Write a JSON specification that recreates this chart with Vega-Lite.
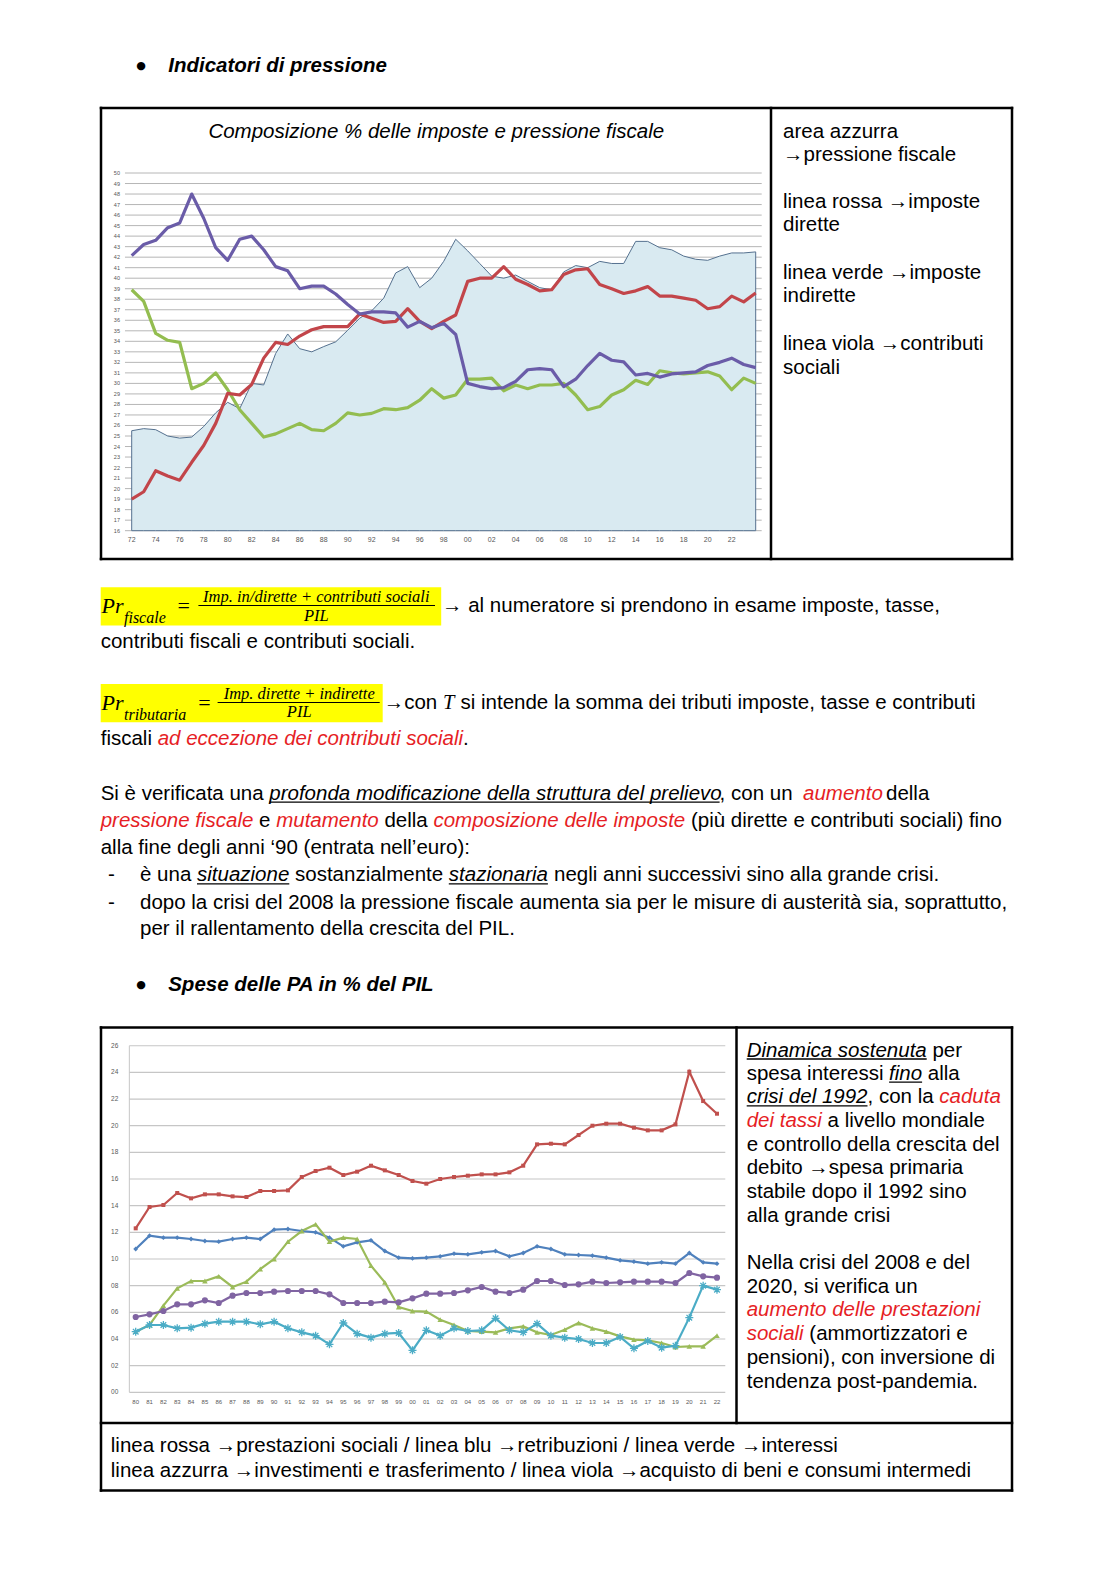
{
  "$schema": "https://vega.github.io/schema/vega-lite/v6.json",
  "width": 1118,
  "height": 1579,
  "autosize": {"type": "fit", "contains": "padding"},
  "padding": 0,
  "background": "#ffffff",
  "config": {"view": {"stroke": null}},
  "resolve": {"scale": {"x": "independent", "y": "independent", "color": "independent"}},
  "datasets": {
    "pressione": [
      {"anno":1972,"pressione":25.5,"dirette":19.0,"indirette":38.9,"contributi":42.15},
      {"anno":1973,"pressione":25.7,"dirette":19.7,"indirette":37.8,"contributi":43.2},
      {"anno":1974,"pressione":25.6,"dirette":21.7,"indirette":34.75,"contributi":43.6},
      {"anno":1975,"pressione":25.0,"dirette":21.2,"indirette":34.1,"contributi":44.8},
      {"anno":1976,"pressione":24.8,"dirette":20.8,"indirette":33.9,"contributi":45.25},
      {"anno":1977,"pressione":24.9,"dirette":22.5,"indirette":29.5,"contributi":48.0},
      {"anno":1978,"pressione":25.9,"dirette":24.1,"indirette":30.0,"contributi":45.7},
      {"anno":1979,"pressione":27.2,"dirette":26.2,"indirette":31.0,"contributi":42.9},
      {"anno":1980,"pressione":28.2,"dirette":29.05,"indirette":29.4,"contributi":41.7},
      {"anno":1981,"pressione":27.6,"dirette":28.9,"indirette":27.5,"contributi":43.7},
      {"anno":1982,"pressione":30.0,"dirette":29.9,"indirette":26.2,"contributi":44.0},
      {"anno":1983,"pressione":29.85,"dirette":32.4,"indirette":24.9,"contributi":42.7},
      {"anno":1984,"pressione":32.85,"dirette":33.9,"indirette":25.2,"contributi":41.1},
      {"anno":1985,"pressione":34.7,"dirette":33.7,"indirette":25.7,"contributi":40.7},
      {"anno":1986,"pressione":33.3,"dirette":34.5,"indirette":26.2,"contributi":39.0},
      {"anno":1987,"pressione":33.0,"dirette":35.1,"indirette":25.6,"contributi":39.25},
      {"anno":1988,"pressione":33.5,"dirette":35.4,"indirette":25.5,"contributi":39.25},
      {"anno":1989,"pressione":33.95,"dirette":35.4,"indirette":26.2,"contributi":38.5},
      {"anno":1990,"pressione":35.05,"dirette":35.4,"indirette":27.2,"contributi":37.5},
      {"anno":1991,"pressione":36.2,"dirette":36.6,"indirette":27.0,"contributi":36.6},
      {"anno":1992,"pressione":36.9,"dirette":36.2,"indirette":27.15,"contributi":36.8},
      {"anno":1993,"pressione":38.1,"dirette":35.8,"indirette":27.6,"contributi":36.8},
      {"anno":1994,"pressione":40.5,"dirette":35.9,"indirette":27.5,"contributi":36.7},
      {"anno":1995,"pressione":41.1,"dirette":37.1,"indirette":27.7,"contributi":35.35},
      {"anno":1996,"pressione":39.1,"dirette":35.9,"indirette":28.4,"contributi":35.9},
      {"anno":1997,"pressione":40.0,"dirette":35.2,"indirette":29.5,"contributi":35.3},
      {"anno":1998,"pressione":41.6,"dirette":35.9,"indirette":28.6,"contributi":35.7},
      {"anno":1999,"pressione":43.7,"dirette":36.5,"indirette":28.9,"contributi":34.65},
      {"anno":2000,"pressione":42.6,"dirette":39.7,"indirette":30.4,"contributi":30.0},
      {"anno":2001,"pressione":41.4,"dirette":40.0,"indirette":30.4,"contributi":29.7},
      {"anno":2002,"pressione":40.2,"dirette":40.0,"indirette":30.5,"contributi":29.5},
      {"anno":2003,"pressione":40.0,"dirette":41.1,"indirette":29.3,"contributi":29.6},
      {"anno":2004,"pressione":40.3,"dirette":39.9,"indirette":29.85,"contributi":30.2},
      {"anno":2005,"pressione":39.7,"dirette":39.4,"indirette":29.5,"contributi":31.3},
      {"anno":2006,"pressione":39.1,"dirette":38.8,"indirette":29.85,"contributi":31.4},
      {"anno":2007,"pressione":38.9,"dirette":38.9,"indirette":29.85,"contributi":31.3},
      {"anno":2008,"pressione":40.6,"dirette":40.35,"indirette":30.0,"contributi":29.7},
      {"anno":2009,"pressione":41.2,"dirette":40.8,"indirette":28.9,"contributi":30.4},
      {"anno":2010,"pressione":41.0,"dirette":40.9,"indirette":27.5,"contributi":31.7},
      {"anno":2011,"pressione":41.6,"dirette":39.4,"indirette":27.8,"contributi":32.85},
      {"anno":2012,"pressione":41.4,"dirette":39.0,"indirette":28.9,"contributi":32.2},
      {"anno":2013,"pressione":41.4,"dirette":38.55,"indirette":29.4,"contributi":32.05},
      {"anno":2014,"pressione":43.5,"dirette":38.8,"indirette":30.3,"contributi":30.8},
      {"anno":2015,"pressione":43.5,"dirette":39.2,"indirette":29.9,"contributi":30.95},
      {"anno":2016,"pressione":42.9,"dirette":38.3,"indirette":31.2,"contributi":30.6},
      {"anno":2017,"pressione":42.7,"dirette":38.3,"indirette":31.0,"contributi":30.9},
      {"anno":2018,"pressione":42.1,"dirette":38.1,"indirette":30.9,"contributi":31.0},
      {"anno":2019,"pressione":41.8,"dirette":37.9,"indirette":31.0,"contributi":31.1},
      {"anno":2020,"pressione":41.7,"dirette":37.1,"indirette":31.1,"contributi":31.7},
      {"anno":2021,"pressione":42.1,"dirette":37.3,"indirette":30.7,"contributi":32.0},
      {"anno":2022,"pressione":42.4,"dirette":38.3,"indirette":29.4,"contributi":32.4},
      {"anno":2023,"pressione":42.4,"dirette":37.75,"indirette":30.5,"contributi":31.8},
      {"anno":2024,"pressione":42.5,"dirette":38.6,"indirette":30.0,"contributi":31.5}
    ],
    "spese": [
      {"anno":1980,"prestazioni":12.3,"retribuzioni":10.75,"interessi":4.55,"beni":5.65,"investimenti":4.55},
      {"anno":1981,"prestazioni":13.9,"retribuzioni":11.75,"interessi":5.05,"beni":5.85,"investimenti":5.05},
      {"anno":1982,"prestazioni":14.05,"retribuzioni":11.6,"interessi":6.5,"beni":6.1,"investimenti":5.05},
      {"anno":1983,"prestazioni":14.95,"retribuzioni":11.6,"interessi":7.8,"beni":6.6,"investimenti":4.8},
      {"anno":1984,"prestazioni":14.55,"retribuzioni":11.5,"interessi":8.35,"beni":6.6,"investimenti":4.85},
      {"anno":1985,"prestazioni":14.85,"retribuzioni":11.35,"interessi":8.35,"beni":6.9,"investimenti":5.15},
      {"anno":1986,"prestazioni":14.85,"retribuzioni":11.3,"interessi":8.7,"beni":6.7,"investimenti":5.3},
      {"anno":1987,"prestazioni":14.7,"retribuzioni":11.5,"interessi":7.9,"beni":7.25,"investimenti":5.3},
      {"anno":1988,"prestazioni":14.65,"retribuzioni":11.6,"interessi":8.3,"beni":7.45,"investimenti":5.3},
      {"anno":1989,"prestazioni":15.1,"retribuzioni":11.5,"interessi":9.25,"beni":7.45,"investimenti":5.1},
      {"anno":1990,"prestazioni":15.1,"retribuzioni":12.2,"interessi":10.0,"beni":7.55,"investimenti":5.3},
      {"anno":1991,"prestazioni":15.15,"retribuzioni":12.25,"interessi":11.3,"beni":7.6,"investimenti":4.8},
      {"anno":1992,"prestazioni":16.15,"retribuzioni":12.1,"interessi":12.1,"beni":7.6,"investimenti":4.5},
      {"anno":1993,"prestazioni":16.6,"retribuzioni":12.0,"interessi":12.6,"beni":7.6,"investimenti":4.25},
      {"anno":1994,"prestazioni":16.85,"retribuzioni":11.6,"interessi":11.3,"beni":7.35,"investimenti":3.6},
      {"anno":1995,"prestazioni":16.3,"retribuzioni":10.95,"interessi":11.6,"beni":6.7,"investimenti":5.2},
      {"anno":1996,"prestazioni":16.55,"retribuzioni":11.25,"interessi":11.5,"beni":6.7,"investimenti":4.4},
      {"anno":1997,"prestazioni":17.0,"retribuzioni":11.4,"interessi":9.5,"beni":6.7,"investimenti":4.1},
      {"anno":1998,"prestazioni":16.65,"retribuzioni":10.6,"interessi":8.25,"beni":6.8,"investimenti":4.4},
      {"anno":1999,"prestazioni":16.3,"retribuzioni":10.1,"interessi":6.4,"beni":6.75,"investimenti":4.45},
      {"anno":2000,"prestazioni":15.85,"retribuzioni":10.05,"interessi":6.1,"beni":7.05,"investimenti":3.15},
      {"anno":2001,"prestazioni":15.65,"retribuzioni":10.1,"interessi":6.05,"beni":7.4,"investimenti":4.65},
      {"anno":2002,"prestazioni":16.0,"retribuzioni":10.2,"interessi":5.45,"beni":7.4,"investimenti":4.25},
      {"anno":2003,"prestazioni":16.15,"retribuzioni":10.4,"interessi":5.05,"beni":7.45,"investimenti":4.8},
      {"anno":2004,"prestazioni":16.25,"retribuzioni":10.35,"interessi":4.6,"beni":7.65,"investimenti":4.6},
      {"anno":2005,"prestazioni":16.35,"retribuzioni":10.5,"interessi":4.55,"beni":7.9,"investimenti":4.65},
      {"anno":2006,"prestazioni":16.35,"retribuzioni":10.6,"interessi":4.5,"beni":7.55,"investimenti":5.55},
      {"anno":2007,"prestazioni":16.5,"retribuzioni":10.2,"interessi":4.8,"beni":7.45,"investimenti":4.65},
      {"anno":2008,"prestazioni":17.0,"retribuzioni":10.45,"interessi":4.95,"beni":7.7,"investimenti":4.5},
      {"anno":2009,"prestazioni":18.6,"retribuzioni":10.95,"interessi":4.5,"beni":8.35,"investimenti":5.15},
      {"anno":2010,"prestazioni":18.65,"retribuzioni":10.75,"interessi":4.3,"beni":8.35,"investimenti":4.25},
      {"anno":2011,"prestazioni":18.6,"retribuzioni":10.35,"interessi":4.7,"beni":8.05,"investimenti":4.1},
      {"anno":2012,"prestazioni":19.3,"retribuzioni":10.3,"interessi":5.2,"beni":8.1,"investimenti":4.0},
      {"anno":2013,"prestazioni":20.0,"retribuzioni":10.25,"interessi":4.8,"beni":8.3,"investimenti":3.7},
      {"anno":2014,"prestazioni":20.15,"retribuzioni":10.1,"interessi":4.55,"beni":8.2,"investimenti":3.7},
      {"anno":2015,"prestazioni":20.15,"retribuzioni":9.9,"interessi":4.2,"beni":8.25,"investimenti":4.15},
      {"anno":2016,"prestazioni":19.85,"retribuzioni":9.8,"interessi":3.95,"beni":8.3,"investimenti":3.3},
      {"anno":2017,"prestazioni":19.65,"retribuzioni":9.65,"interessi":3.9,"beni":8.3,"investimenti":3.85},
      {"anno":2018,"prestazioni":19.65,"retribuzioni":9.75,"interessi":3.7,"beni":8.3,"investimenti":3.35},
      {"anno":2019,"prestazioni":20.1,"retribuzioni":9.65,"interessi":3.4,"beni":8.2,"investimenti":3.5},
      {"anno":2020,"prestazioni":24.05,"retribuzioni":10.45,"interessi":3.45,"beni":8.95,"investimenti":5.6},
      {"anno":2021,"prestazioni":21.85,"retribuzioni":9.75,"interessi":3.45,"beni":8.7,"investimenti":8.0},
      {"anno":2022,"prestazioni":20.9,"retribuzioni":9.65,"interessi":4.25,"beni":8.6,"investimenti":7.7}
    ],
    "griglia1": [
      {"v":16},{"v":17},{"v":18},{"v":19},{"v":20},{"v":21},{"v":22},{"v":23},{"v":24},{"v":25},
      {"v":26},{"v":27},{"v":28},{"v":29},{"v":30},{"v":31},{"v":32},{"v":33},{"v":34},{"v":35},
      {"v":36},{"v":37},{"v":38},{"v":39},{"v":40},{"v":41},{"v":42},{"v":43},{"v":44},{"v":45},
      {"v":46},{"v":47},{"v":48},{"v":49},{"v":50}
    ],
    "anni1": [
      {"anno":1972,"t":"72"},{"anno":1974,"t":"74"},{"anno":1976,"t":"76"},{"anno":1978,"t":"78"},
      {"anno":1980,"t":"80"},{"anno":1982,"t":"82"},{"anno":1984,"t":"84"},{"anno":1986,"t":"86"},
      {"anno":1988,"t":"88"},{"anno":1990,"t":"90"},{"anno":1992,"t":"92"},{"anno":1994,"t":"94"},
      {"anno":1996,"t":"96"},{"anno":1998,"t":"98"},{"anno":2000,"t":"00"},{"anno":2002,"t":"02"},
      {"anno":2004,"t":"04"},{"anno":2006,"t":"06"},{"anno":2008,"t":"08"},{"anno":2010,"t":"10"},
      {"anno":2012,"t":"12"},{"anno":2014,"t":"14"},{"anno":2016,"t":"16"},{"anno":2018,"t":"18"},
      {"anno":2020,"t":"20"},{"anno":2022,"t":"22"}
    ],
    "griglia2": [
      {"v":0,"t":"00"},{"v":2,"t":"02"},{"v":4,"t":"04"},{"v":6,"t":"06"},{"v":8,"t":"08"},
      {"v":10,"t":"10"},{"v":12,"t":"12"},{"v":14,"t":"14"},{"v":16,"t":"16"},{"v":18,"t":"18"},
      {"v":20,"t":"20"},{"v":22,"t":"22"},{"v":24,"t":"24"},{"v":26,"t":"26"}
    ],
    "anni2": [
      {"anno":1980,"t":"80"},{"anno":1981,"t":"81"},{"anno":1982,"t":"82"},{"anno":1983,"t":"83"},
      {"anno":1984,"t":"84"},{"anno":1985,"t":"85"},{"anno":1986,"t":"86"},{"anno":1987,"t":"87"},
      {"anno":1988,"t":"88"},{"anno":1989,"t":"89"},{"anno":1990,"t":"90"},{"anno":1991,"t":"91"},
      {"anno":1992,"t":"92"},{"anno":1993,"t":"93"},{"anno":1994,"t":"94"},{"anno":1995,"t":"95"},
      {"anno":1996,"t":"96"},{"anno":1997,"t":"97"},{"anno":1998,"t":"98"},{"anno":1999,"t":"99"},
      {"anno":2000,"t":"00"},{"anno":2001,"t":"01"},{"anno":2002,"t":"02"},{"anno":2003,"t":"03"},
      {"anno":2004,"t":"04"},{"anno":2005,"t":"05"},{"anno":2006,"t":"06"},{"anno":2007,"t":"07"},
      {"anno":2008,"t":"08"},{"anno":2009,"t":"09"},{"anno":2010,"t":"10"},{"anno":2011,"t":"11"},
      {"anno":2012,"t":"12"},{"anno":2013,"t":"13"},{"anno":2014,"t":"14"},{"anno":2015,"t":"15"},
      {"anno":2016,"t":"16"},{"anno":2017,"t":"17"},{"anno":2018,"t":"18"},{"anno":2019,"t":"19"},
      {"anno":2020,"t":"20"},{"anno":2021,"t":"21"},{"anno":2022,"t":"22"}
    ],
    "evidenziato": [
      {"x":100.7,"y":587.2,"x2":441.2,"y2":625.5},
      {"x":100.7,"y":683.9,"x2":382.7,"y2":722.2}
    ],
    "segmenti": [
      {"x":101,"y":108,"x2":1012,"y2":108,"tipo":"bordo"},
      {"x":101,"y":559,"x2":1012,"y2":559,"tipo":"bordo"},
      {"x":101,"y":108,"x2":101,"y2":559,"tipo":"bordo"},
      {"x":1012,"y":108,"x2":1012,"y2":559,"tipo":"bordo"},
      {"x":771,"y":108,"x2":771,"y2":559,"tipo":"bordo"},
      {"x":101,"y":1027.5,"x2":1012,"y2":1027.5,"tipo":"bordo"},
      {"x":101,"y":1490.5,"x2":1012,"y2":1490.5,"tipo":"bordo"},
      {"x":101,"y":1027.5,"x2":101,"y2":1490.5,"tipo":"bordo"},
      {"x":1012,"y":1027.5,"x2":1012,"y2":1490.5,"tipo":"bordo"},
      {"x":736.5,"y":1027.5,"x2":736.5,"y2":1423,"tipo":"bordo"},
      {"x":101,"y":1423,"x2":1012,"y2":1423,"tipo":"bordo"},
      {"x":198.4,"y":605.5,"x2":435,"y2":605.5,"tipo":"frazione"},
      {"x":217.6,"y":702.5,"x2":379.7,"y2":702.5,"tipo":"frazione"},
      {"x":269.3,"y":802.2,"x2":719.6,"y2":802.2,"tipo":"sottolineato"},
      {"x":197,"y":883.8,"x2":289.3,"y2":883.8,"tipo":"sottolineato"},
      {"x":448.8,"y":883.8,"x2":547.9,"y2":883.8,"tipo":"sottolineato"},
      {"x":746.7,"y":1059,"x2":926.7,"y2":1059,"tipo":"sottolineato"},
      {"x":889.1,"y":1082.2,"x2":922.1,"y2":1082.2,"tipo":"sottolineato"},
      {"x":746.7,"y":1105.8,"x2":867.5,"y2":1105.8,"tipo":"sottolineato"}
    ],
    "testi": [
      {"x":141,"y":65.5,"testo":"●","tipo":"punto"},
      {"x":168.2,"y":65.5,"testo":"Indicatori di pressione","tipo":"titolo"},
      {"x":436.3,"y":131.5,"testo":"Composizione % delle imposte e pressione fiscale","tipo":"titolo grafico"},
      {"x":783,"y":132,"testo":"area azzurra","tipo":"normale"},
      {"x":783,"y":155.3,"testo":"→pressione fiscale","tipo":"normale"},
      {"x":783,"y":202,"testo":"linea rossa →imposte","tipo":"normale"},
      {"x":783,"y":225.3,"testo":"dirette","tipo":"normale"},
      {"x":783,"y":272.5,"testo":"linea verde →imposte","tipo":"normale"},
      {"x":783,"y":296,"testo":"indirette","tipo":"normale"},
      {"x":783,"y":344,"testo":"linea viola →contributi","tipo":"normale"},
      {"x":783,"y":367.5,"testo":"sociali","tipo":"normale"},
      {"x":101.5,"y":606,"testo":"Pr","tipo":"formula"},
      {"x":124,"y":617.5,"testo":"fiscale","tipo":"pedice"},
      {"x":183.8,"y":606,"testo":"=","tipo":"uguale"},
      {"x":316.3,"y":597.3,"testo":"Imp. in/dirette + contributi sociali","tipo":"frazione"},
      {"x":316.3,"y":616.4,"testo":"PIL","tipo":"frazione"},
      {"x":442,"y":606,"testo":"→ al numeratore si prendono in esame imposte, tasse,","tipo":"normale"},
      {"x":100.7,"y":641.6,"testo":"contributi fiscali e contributi sociali.","tipo":"normale"},
      {"x":101.5,"y":703,"testo":"Pr","tipo":"formula"},
      {"x":124,"y":715,"testo":"tributaria","tipo":"pedice"},
      {"x":204.4,"y":703,"testo":"=","tipo":"uguale"},
      {"x":299.2,"y":694,"testo":"Imp. dirette + indirette","tipo":"frazione"},
      {"x":299.2,"y":712,"testo":"PIL","tipo":"frazione"},
      {"x":383.7,"y":703,"testo":"→con","tipo":"normale"},
      {"x":443,"y":703,"testo":"T","tipo":"variabile"},
      {"x":460.5,"y":703,"testo":"si intende la somma dei tributi imposte, tasse e contributi","tipo":"normale"},
      {"x":100.7,"y":739.3,"testo":"fiscali","tipo":"normale"},
      {"x":157.7,"y":739.3,"testo":"ad eccezione dei contributi sociali","tipo":"rosso"},
      {"x":463,"y":739.3,"testo":".","tipo":"normale"},
      {"x":100.7,"y":793.7,"testo":"Si è verificata una","tipo":"normale"},
      {"x":269.3,"y":793.7,"testo":"profonda modificazione della struttura del prelievo","tipo":"corsivo"},
      {"x":719.6,"y":793.7,"testo":", con un","tipo":"normale"},
      {"x":803,"y":793.7,"testo":"aumento","tipo":"rosso"},
      {"x":886,"y":793.7,"testo":"della","tipo":"normale"},
      {"x":100.7,"y":820.9,"testo":"pressione fiscale","tipo":"rosso"},
      {"x":259.1,"y":820.9,"testo":"e","tipo":"normale"},
      {"x":276.2,"y":820.9,"testo":"mutamento","tipo":"rosso"},
      {"x":384.4,"y":820.9,"testo":"della","tipo":"normale"},
      {"x":433.4,"y":820.9,"testo":"composizione delle imposte","tipo":"rosso"},
      {"x":690.9,"y":820.9,"testo":"(più dirette e contributi sociali) fino","tipo":"normale"},
      {"x":100.7,"y":848,"testo":"alla fine degli anni ‘90 (entrata nell’euro):","tipo":"normale"},
      {"x":108,"y":875.3,"testo":"-","tipo":"normale"},
      {"x":140,"y":875.3,"testo":"è una","tipo":"normale"},
      {"x":197,"y":875.3,"testo":"situazione","tipo":"corsivo"},
      {"x":295,"y":875.3,"testo":"sostanzialmente","tipo":"normale"},
      {"x":448.8,"y":875.3,"testo":"stazionaria","tipo":"corsivo"},
      {"x":554,"y":875.3,"testo":"negli anni successivi sino alla grande crisi.","tipo":"normale"},
      {"x":108,"y":902.5,"testo":"-","tipo":"normale"},
      {"x":140,"y":902.5,"testo":"dopo la crisi del 2008 la pressione fiscale aumenta sia per le misure di austerità sia, soprattutto,","tipo":"normale"},
      {"x":140,"y":928.6,"testo":"per il rallentamento della crescita del PIL.","tipo":"normale"},
      {"x":141,"y":985,"testo":"●","tipo":"punto"},
      {"x":168.2,"y":985,"testo":"Spese delle PA in % del PIL","tipo":"titolo"},
      {"x":746.7,"y":1050.5,"testo":"Dinamica sostenuta","tipo":"corsivo"},
      {"x":932.4,"y":1050.5,"testo":"per","tipo":"normale"},
      {"x":746.7,"y":1073.7,"testo":"spesa interessi","tipo":"normale"},
      {"x":889.1,"y":1073.7,"testo":"fino","tipo":"corsivo"},
      {"x":927.8,"y":1073.7,"testo":"alla","tipo":"normale"},
      {"x":746.7,"y":1097.3,"testo":"crisi del 1992","tipo":"corsivo"},
      {"x":867.5,"y":1097.3,"testo":", con la","tipo":"normale"},
      {"x":939.3,"y":1097.3,"testo":"caduta","tipo":"rosso"},
      {"x":746.7,"y":1121,"testo":"dei tassi","tipo":"rosso"},
      {"x":827.6,"y":1121,"testo":"a livello mondiale","tipo":"normale"},
      {"x":746.7,"y":1144.5,"testo":"e controllo della crescita del","tipo":"normale"},
      {"x":746.7,"y":1168.4,"testo":"debito →spesa primaria","tipo":"normale"},
      {"x":746.7,"y":1191.8,"testo":"stabile dopo il 1992 sino","tipo":"normale"},
      {"x":746.7,"y":1216,"testo":"alla grande crisi","tipo":"normale"},
      {"x":746.7,"y":1262.5,"testo":"Nella crisi del 2008 e del","tipo":"normale"},
      {"x":746.7,"y":1286.5,"testo":"2020, si verifica un","tipo":"normale"},
      {"x":746.7,"y":1310,"testo":"aumento delle prestazioni","tipo":"rosso"},
      {"x":746.7,"y":1334,"testo":"sociali","tipo":"rosso"},
      {"x":809.3,"y":1334,"testo":"(ammortizzatori e","tipo":"normale"},
      {"x":746.7,"y":1358,"testo":"pensioni), con inversione di","tipo":"normale"},
      {"x":746.7,"y":1382,"testo":"tendenza post-pandemia.","tipo":"normale"},
      {"x":110.8,"y":1446.3,"testo":"linea rossa →prestazioni sociali / linea blu →retribuzioni / linea verde →interessi","tipo":"normale"},
      {"x":110.8,"y":1470.5,"testo":"linea azzurra →investimenti e trasferimento / linea viola →acquisto di beni e consumi intermedi","tipo":"normale"}
    ]
  },
  "layer": [
    {
      "encoding": {
        "x": {"field": "x", "type": "quantitative", "scale": {"domain": [0, 1118], "nice": false, "zero": false}, "axis": null},
        "y": {"field": "y", "type": "quantitative", "scale": {"domain": [0, 1579], "nice": false, "zero": false, "reverse": true}, "axis": null},
        "x2": {"field": "x2"},
        "y2": {"field": "y2"}
      },
      "layer": [
        {"data": {"name": "evidenziato"}, "mark": {"type": "rect", "fill": "#ffff00"}},
        {"data": {"name": "segmenti"}, "transform": [{"filter": "datum.tipo == 'bordo'"}],
         "mark": {"type": "rule", "color": "#000000", "strokeWidth": 2.5, "strokeCap": "square"}},
        {"data": {"name": "segmenti"}, "transform": [{"filter": "datum.tipo == 'frazione'"}],
         "mark": {"type": "rule", "color": "#000000", "strokeWidth": 1.1}},
        {"data": {"name": "segmenti"}, "transform": [{"filter": "datum.tipo == 'sottolineato'"}],
         "mark": {"type": "rule", "color": "#000000", "strokeWidth": 1.3}}
      ]
    },
    {
      "layer": [
        {
          "data": {"name": "griglia1"},
          "mark": {"type": "rule", "color": "#a3a3a3", "strokeWidth": 0.8},
          "encoding": {
            "x": {"datum": 1971.44, "type": "quantitative", "scale": {"domain": [1961.025, 2054.192], "nice": false, "zero": false}, "axis": null},
            "x2": {"datum": 2024.5},
            "y": {"field": "v", "type": "quantitative", "scale": {"domain": [-83.65, 66.445], "nice": false, "zero": false}, "axis": null}
          }
        },
        {
          "data": {"name": "griglia1"},
          "mark": {"type": "text", "align": "right", "baseline": "middle", "font": "Liberation Sans", "fontSize": 5.5, "color": "#555555"},
          "encoding": {
            "x": {"datum": 1971.025, "type": "quantitative", "scale": {"domain": [1961.025, 2054.192], "nice": false, "zero": false}, "axis": null},
            "y": {"field": "v", "type": "quantitative", "scale": {"domain": [-83.65, 66.445], "nice": false, "zero": false}, "axis": null},
            "text": {"field": "v", "type": "quantitative"}
          }
        },
        {
          "data": {"name": "anni1"},
          "mark": {"type": "text", "align": "center", "baseline": "middle", "font": "Liberation Sans", "fontSize": 7, "color": "#555555"},
          "encoding": {
            "x": {"field": "anno", "type": "quantitative", "scale": {"domain": [1961.025, 2054.192], "nice": false, "zero": false}, "axis": null},
            "y": {"datum": 15.114, "type": "quantitative", "scale": {"domain": [-83.65, 66.445], "nice": false, "zero": false}, "axis": null},
            "text": {"field": "t"}
          }
        },
        {
          "data": {"name": "pressione"},
          "mark": {"type": "area", "fill": "#d9eaf1", "stroke": "#55718f", "strokeWidth": 1},
          "encoding": {
            "x": {"field": "anno", "type": "quantitative", "scale": {"domain": [1961.025, 2054.192], "nice": false, "zero": false}, "axis": null},
            "y": {"field": "pressione", "type": "quantitative", "scale": {"domain": [-83.65, 66.445], "nice": false, "zero": false}, "axis": null},
            "y2": {"datum": 16}
          }
        },
        {
          "data": {"name": "pressione"},
          "transform": [{"fold": ["indirette", "dirette", "contributi"], "as": ["serie", "valore"]}],
          "mark": {"type": "line", "strokeWidth": 3.2, "strokeJoin": "round"},
          "encoding": {
            "x": {"field": "anno", "type": "quantitative", "scale": {"domain": [1961.025, 2054.192], "nice": false, "zero": false}, "axis": null},
            "y": {"field": "valore", "type": "quantitative", "scale": {"domain": [-83.65, 66.445], "nice": false, "zero": false}, "axis": null},
            "color": {"field": "serie", "type": "nominal", "scale": {"domain": ["indirette", "dirette", "contributi"], "range": ["#93bd50", "#c2454a", "#6a5ca8"]}, "legend": null}
          }
        }
      ]
    },
    {
      "layer": [
        {
          "data": {"name": "griglia2"},
          "mark": {"type": "rule", "color": "#c6c6c6", "strokeWidth": 1.2},
          "encoding": {
            "x": {"datum": 1979.54, "type": "quantitative", "scale": {"domain": [1970.195, 2050.975], "nice": false, "zero": false}, "axis": null},
            "x2": {"datum": 2022.6},
            "y": {"field": "v", "type": "quantitative", "scale": {"domain": [-14.006, 104.45], "nice": false, "zero": false}, "axis": null}
          }
        },
        {
          "data": {"values": [{}]},
          "mark": {"type": "rule", "color": "#c6c6c6", "strokeWidth": 1},
          "encoding": {
            "x": {"datum": 1979.54, "type": "quantitative", "scale": {"domain": [1970.195, 2050.975], "nice": false, "zero": false}, "axis": null},
            "y": {"datum": 0, "type": "quantitative", "scale": {"domain": [-14.006, 104.45], "nice": false, "zero": false}, "axis": null},
            "y2": {"datum": 26}
          }
        },
        {
          "data": {"name": "griglia2"},
          "mark": {"type": "text", "align": "right", "baseline": "middle", "font": "Liberation Sans", "fontSize": 6.5, "color": "#595959"},
          "encoding": {
            "x": {"datum": 1978.743, "type": "quantitative", "scale": {"domain": [1970.195, 2050.975], "nice": false, "zero": false}, "axis": null},
            "y": {"field": "v", "type": "quantitative", "scale": {"domain": [-14.006, 104.45], "nice": false, "zero": false}, "axis": null},
            "text": {"field": "t"}
          }
        },
        {
          "data": {"name": "anni2"},
          "mark": {"type": "text", "align": "center", "baseline": "middle", "font": "Liberation Sans", "fontSize": 6, "color": "#595959"},
          "encoding": {
            "x": {"field": "anno", "type": "quantitative", "scale": {"domain": [1970.195, 2050.975], "nice": false, "zero": false}, "axis": null},
            "y": {"datum": -0.705, "type": "quantitative", "scale": {"domain": [-14.006, 104.45], "nice": false, "zero": false}, "axis": null},
            "text": {"field": "t"}
          }
        },
        {
          "data": {"name": "spese"},
          "transform": [{"fold": ["prestazioni", "retribuzioni", "interessi", "investimenti", "beni"], "as": ["serie", "valore"]}],
          "mark": {"type": "line", "strokeWidth": 2.2},
          "encoding": {
            "x": {"field": "anno", "type": "quantitative", "scale": {"domain": [1970.195, 2050.975], "nice": false, "zero": false}, "axis": null},
            "y": {"field": "valore", "type": "quantitative", "scale": {"domain": [-14.006, 104.45], "nice": false, "zero": false}, "axis": null},
            "color": {"field": "serie", "type": "nominal", "scale": {"domain": ["prestazioni", "retribuzioni", "interessi", "investimenti", "beni"], "range": ["#c0504d", "#4f81bd", "#9bbb59", "#4bacc6", "#8064a2"]}, "legend": null}
          }
        },
        {
          "data": {"name": "spese"},
          "transform": [{"fold": ["prestazioni", "retribuzioni", "interessi", "beni"], "as": ["serie", "valore"]}],
          "mark": {"type": "point", "filled": true, "opacity": 1},
          "encoding": {
            "x": {"field": "anno", "type": "quantitative", "scale": {"domain": [1970.195, 2050.975], "nice": false, "zero": false}, "axis": null},
            "y": {"field": "valore", "type": "quantitative", "scale": {"domain": [-14.006, 104.45], "nice": false, "zero": false}, "axis": null},
            "color": {"field": "serie", "type": "nominal", "scale": {"domain": ["prestazioni", "retribuzioni", "interessi", "investimenti", "beni"], "range": ["#c0504d", "#4f81bd", "#9bbb59", "#4bacc6", "#8064a2"]}, "legend": null},
            "shape": {"field": "serie", "type": "nominal", "scale": {"domain": ["prestazioni", "retribuzioni", "interessi", "beni"], "range": ["square", "diamond", "triangle-up", "circle"]}, "legend": null},
            "size": {"field": "serie", "type": "ordinal", "scale": {"domain": ["prestazioni", "retribuzioni", "interessi", "beni"], "range": [16, 38, 20, 28]}, "legend": null}
          }
        },
        {
          "data": {"name": "spese"},
          "mark": {"type": "point", "filled": false, "color": "#4bacc6", "strokeWidth": 1.3, "opacity": 1, "size": 64,
                   "shape": "M-1,0L1,0M0,-1L0,1M-0.7,-0.7L0.7,0.7M-0.7,0.7L0.7,-0.7"},
          "encoding": {
            "x": {"field": "anno", "type": "quantitative", "scale": {"domain": [1970.195, 2050.975], "nice": false, "zero": false}, "axis": null},
            "y": {"field": "investimenti", "type": "quantitative", "scale": {"domain": [-14.006, 104.45], "nice": false, "zero": false}, "axis": null}
          }
        }
      ]
    },
    {
      "data": {"name": "testi"},
      "encoding": {
        "x": {"field": "x", "type": "quantitative", "scale": {"domain": [0, 1118], "nice": false, "zero": false}, "axis": null},
        "y": {"field": "y", "type": "quantitative", "scale": {"domain": [0, 1579], "nice": false, "zero": false, "reverse": true}, "axis": null},
        "text": {"field": "testo"}
      },
      "layer": [
        {"transform": [{"filter": "datum.tipo == 'normale'"}],
         "mark": {"type": "text", "align": "left", "baseline": "middle", "font": "Liberation Sans, DejaVu Sans", "fontSize": 20.5, "color": "#000000"}},
        {"transform": [{"filter": "datum.tipo == 'corsivo'"}],
         "mark": {"type": "text", "align": "left", "baseline": "middle", "font": "Liberation Sans", "fontSize": 20.5, "fontStyle": "italic", "color": "#000000"}},
        {"transform": [{"filter": "datum.tipo == 'rosso'"}],
         "mark": {"type": "text", "align": "left", "baseline": "middle", "font": "Liberation Sans", "fontSize": 20.5, "fontStyle": "italic", "color": "#e61e25"}},
        {"transform": [{"filter": "datum.tipo == 'titolo'"}],
         "mark": {"type": "text", "align": "left", "baseline": "middle", "font": "Liberation Sans", "fontSize": 20.5, "fontStyle": "italic", "fontWeight": "bold", "color": "#000000"}},
        {"transform": [{"filter": "datum.tipo == 'titolo grafico'"}],
         "mark": {"type": "text", "align": "center", "baseline": "middle", "font": "Liberation Sans", "fontSize": 20.5, "fontStyle": "italic", "color": "#000000"}},
        {"transform": [{"filter": "datum.tipo == 'punto'"}],
         "mark": {"type": "text", "align": "center", "baseline": "middle", "font": "DejaVu Sans", "fontSize": 11, "color": "#000000"}},
        {"transform": [{"filter": "datum.tipo == 'formula'"}],
         "mark": {"type": "text", "align": "left", "baseline": "middle", "font": "Liberation Serif", "fontSize": 22, "fontStyle": "italic", "color": "#000000"}},
        {"transform": [{"filter": "datum.tipo == 'pedice'"}],
         "mark": {"type": "text", "align": "left", "baseline": "middle", "font": "Liberation Serif", "fontSize": 16, "fontStyle": "italic", "color": "#000000"}},
        {"transform": [{"filter": "datum.tipo == 'uguale'"}],
         "mark": {"type": "text", "align": "center", "baseline": "middle", "font": "Liberation Serif", "fontSize": 22, "color": "#000000"}},
        {"transform": [{"filter": "datum.tipo == 'frazione'"}],
         "mark": {"type": "text", "align": "center", "baseline": "middle", "font": "Liberation Serif", "fontSize": 16.5, "fontStyle": "italic", "color": "#000000"}},
        {"transform": [{"filter": "datum.tipo == 'variabile'"}],
         "mark": {"type": "text", "align": "left", "baseline": "middle", "font": "Liberation Serif", "fontSize": 20.5, "fontStyle": "italic", "color": "#000000"}}
      ]
    }
  ]
}
